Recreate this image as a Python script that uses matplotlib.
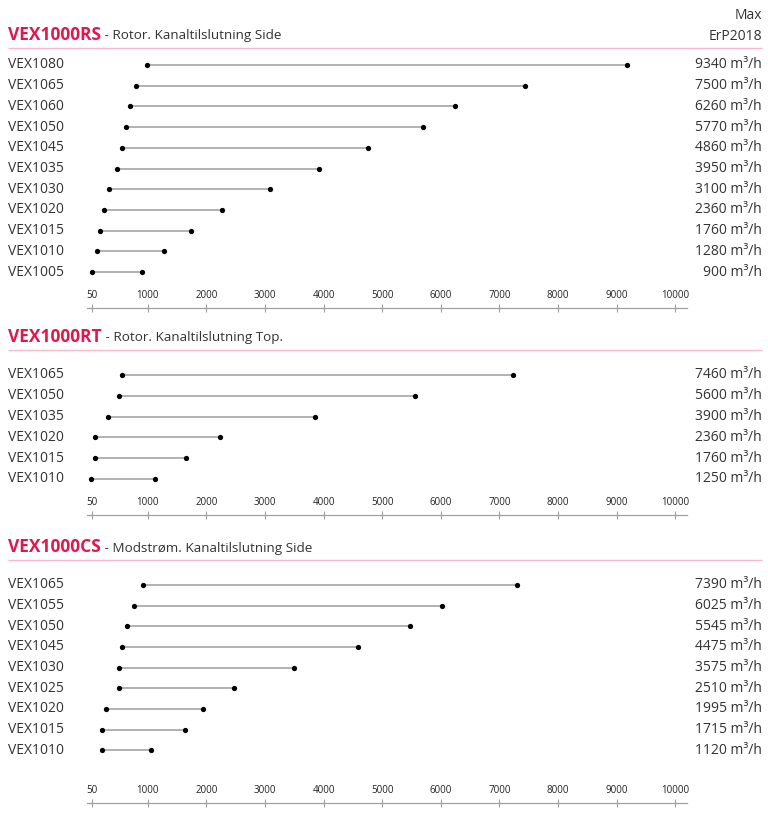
import matplotlib
matplotlib.use('Agg')
import matplotlib.pyplot as plt

plt.rcParams['font.family'] = ['Open Sans', 'DejaVu Sans']

# ---------------- data ----------------
rs_models = ['VEX1080', 'VEX1065', 'VEX1060', 'VEX1050', 'VEX1045', 'VEX1035',
             'VEX1030', 'VEX1020', 'VEX1015', 'VEX1010', 'VEX1005']
rs_min = [980, 800, 690, 620, 560, 470, 340, 250, 180, 130, 55]
rs_max = [9170, 7430, 6240, 5690, 4750, 3920, 3090, 2270, 1740, 1270, 900]
rs_max_label = ['9340', '7500', '6260', '5770', '4860', '3950', '3100', '2360', '1760', '1280', '900']

rt_models = ['VEX1065', 'VEX1050', 'VEX1035', 'VEX1020', 'VEX1015', 'VEX1010']
rt_min = [565, 510, 320, 100, 100, 30]
rt_max = [7230, 5565, 3860, 2225, 1645, 1120]
rt_max_label = ['7460', '5600', '3900', '2360', '1760', '1250']

cs_models = ['VEX1065', 'VEX1055', 'VEX1050', 'VEX1045', 'VEX1030', 'VEX1025',
             'VEX1020', 'VEX1015', 'VEX1010']
cs_min = [920, 770, 640, 565, 500, 500, 280, 225, 220]
cs_max = [7300, 6020, 5480, 4590, 3490, 2475, 1940, 1640, 1053]
cs_max_label = ['7390', '6025', '5545', '4475', '3575', '2510', '1995', '1715', '1120']

titles = ['VEX1000RS', 'VEX1000RT', 'VEX1000CS']
subtitles = [' - Rotor. Kanaltilslutning Side', ' - Rotor. Kanaltilslutning Top.',
             ' - Modstrøm. Kanaltilslutning Side']
tick_values = [50, 1000, 2000, 3000, 4000, 5000, 6000, 7000, 8000, 9000, 10000]
tick_labels = ['50', '1000', '2000', '3000', '4000', '5000', '6000', '7000', '8000', '9000', '10000']
unit = ' m³/h'
header = ['Max', 'ErP2018']

# ---------------- layout ----------------
W, H = 768, 815
PX0 = 89.2          # pixel of value 0
PX_PER = 0.05860    # pixels per unit
XLIM = (-PX0 / PX_PER, (W - PX0) / PX_PER)

RED = '#E3174B'
PINK = '#F7B9CB'
TXT = '#333333'
LINE = '#ABABAB'
AXC = '#A0A0A0'

fig = plt.figure(figsize=(W / 100, H / 100), dpi=100)
lay = fig.add_axes([0, 0, 1, 1])
lay.set_xlim(0, W); lay.set_ylim(H, 0); lay.axis('off')
ax = fig.add_axes([0, 0, 1, 1])
ax.set_xlim(*XLIM); ax.set_ylim(H, 0); ax.axis('off')

sections = [
    dict(models=rs_models, lo=rs_min, hi=rs_max, lab=rs_max_label,
         title_y=39.5, rule_y=48, row0=65, step=20.7, scale_y=307.5),
    dict(models=rt_models, lo=rt_min, hi=rt_max, lab=rt_max_label,
         title_y=341.5, rule_y=350, row0=375, step=20.8, scale_y=514.5),
    dict(models=cs_models, lo=cs_min, hi=cs_max, lab=cs_max_label,
         title_y=552, rule_y=560, row0=585, step=20.65, scale_y=802.5),
]

# header
lay.text(762, 19, header[0], ha='right', va='baseline', fontsize=10, color=TXT)
lay.text(762, 39.5, header[1], ha='right', va='baseline', fontsize=10, color=TXT)

for k, s in enumerate(sections):
    # title
    t = lay.text(8, s['title_y'], titles[k], ha='left', va='baseline',
                 fontsize=12.5, fontweight='bold', color=RED)
    fig.canvas.draw()
    bb = t.get_window_extent()
    x_end = bb.x1  # display px == figure px
    lay.text(x_end, s['title_y'], subtitles[k], ha='left', va='baseline',
             fontsize=9.7, color=TXT)
    lay.plot([8, 762], [s['rule_y'], s['rule_y']], color=PINK, lw=1.0,
             solid_capstyle='butt')

    ys = [s['row0'] + i * s['step'] for i in range(len(s['models']))]
    ax.hlines(ys, s['lo'], s['hi'], color=LINE, lw=1.3, zorder=2)
    ax.plot(s['lo'], ys, 'o', color='black', ms=3.8, mew=0, zorder=3)
    ax.plot(s['hi'], ys, 'o', color='black', ms=3.8, mew=0, zorder=3)
    for y, m, l in zip(ys, s['models'], s['lab']):
        lay.text(8, y, m, ha='left', va='center', fontsize=10, color=TXT)
        lay.text(762, y, l + unit, ha='right', va='center', fontsize=10, color=TXT)

    # scale axis
    sax = fig.add_axes([0, 1 - s['scale_y'] / H - 1e-5, 1, 1e-5])
    sax.patch.set_visible(False)
    sax.set_xlim(*XLIM)
    for side in ['bottom', 'left', 'right']:
        sax.spines[side].set_visible(False)
    sax.spines['top'].set_bounds(-40, 10200)
    sax.spines['top'].set_color(AXC)
    sax.spines['top'].set_linewidth(0.9)
    sax.set_yticks([])
    sax.set_xticks(tick_values)
    sax.set_xticklabels(tick_labels)
    sax.tick_params(axis='x', bottom=False, labelbottom=False, top=True, labeltop=True,
                    direction='inout', length=6, width=0.8, color=AXC,
                    labelsize=7, labelcolor='#222222', pad=2)

fig.savefig('out.png', dpi=100)
